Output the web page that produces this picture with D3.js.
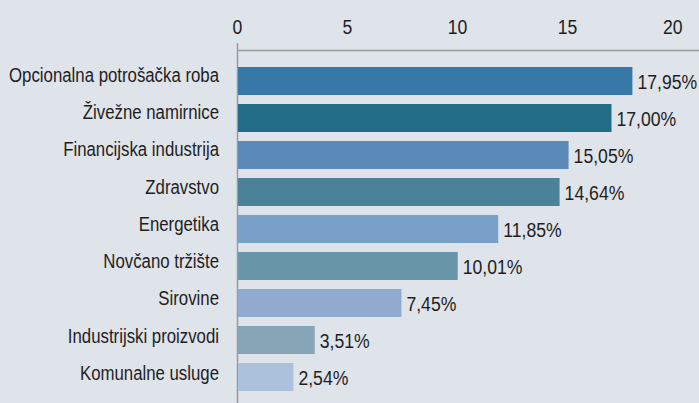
<!DOCTYPE html>
<html>
<head>
<meta charset="utf-8">
<script src="https://cdn.jsdelivr.net/npm/d3@7"></script>
<style>
  body { margin: 0; background: #dfe3ea; }
  svg text { font-family: 'Liberation Sans', Arial, sans-serif; fill: #1e1e1e; }
</style>
</head>
<body>
<div id="chart"></div>
<script>
// sektori i udjeli (%)
var categories = ["Opcionalna potrošačka roba", "Živežne namirnice", "Financijska industrija", "Zdravstvo",
    "Energetika", "Novčano tržište", "Sirovine", "Industrijski proizvodi", "Komunalne usluge"];
var values = [17.95, 17.00, 15.05, 14.64, 11.85, 10.01, 7.45, 3.51, 2.54];
var barColors = ["#3778a8", "#226d85", "#5c8bb9", "#4a8297", "#78a0c8", "#6896a8", "#8facce", "#86a6b7", "#acc2dc"];
var tickValues = [0, 5, 10, 15, 20];

var width = 699, height = 403;
var x0 = 237.5;

var svg = d3.select("#chart").append("svg")
    .attr("width", width)
    .attr("height", height);

svg.append("rect").attr("width", width).attr("height", height).attr("fill", "#dfe3ea");

var x = d3.scaleLinear().domain([0, 20]).range([x0, x0 + 440]);

var y = d3.scaleBand()
    .domain(categories)
    .range([62.5, 395.5])
    .paddingInner(0.243)
    .paddingOuter(0.1215);

// nazivi kategorija imaju malo drukciji razmak od stupaca
var yLabel = d3.scalePoint()
    .domain(categories)
    .range([81.7, 380]);

// uski font: horizontalno stisnut
function place(px, py, s) {
    return "translate(" + px + "," + py + ") scale(" + s + ",1)";
}

// os
svg.append("line")
    .attr("x1", x0).attr("x2", width)
    .attr("y1", 50.5).attr("y2", 50.5)
    .attr("stroke", "#9a9a9a").attr("stroke-width", 1.5);
svg.append("line")
    .attr("x1", x0).attr("x2", x0)
    .attr("y1", 43).attr("y2", height)
    .attr("stroke", "#9a9a9a").attr("stroke-width", 1.5);

svg.selectAll(".tick")
    .data(tickValues)
    .enter().append("text")
    .attr("class", "tick")
    .attr("transform", function (d) { return place(d == 20 ? x(d) + 5 : x(d), 34, 0.84); })
    .attr("font-size", "21px")
    .style("text-anchor", function (d) { return d == 20 ? "end" : "middle"; })
    .text(function (d) { return d; });

var rows = svg.selectAll(".row")
    .data(categories)
    .enter().append("g")
    .attr("class", "row");

rows.append("rect")
    .attr("x", x0 + 0.5)
    .attr("y", function (d) { return y(d); })
    .attr("width", function (d, i) { return x(values[i]) - x0 - 0.5; })
    .attr("height", y.bandwidth())
    .attr("fill", function (d, i) { return barColors[i]; });

rows.append("text")
    .attr("transform", function (d) { return place(219, yLabel(d), 0.8); })
    .attr("font-size", "21px")
    .style("text-anchor", "end")
    .text(function (d) { return d; });

rows.append("text")
    .attr("transform", function (d, i) { return place(x(values[i]) + 5, y(d) + y.bandwidth() / 2 + 8, 0.84); })
    .attr("font-size", "21px")
    .text(function (d, i) { return values[i].toFixed(2).replace(".", ",") + "%"; });
</script>
</body>
</html>
